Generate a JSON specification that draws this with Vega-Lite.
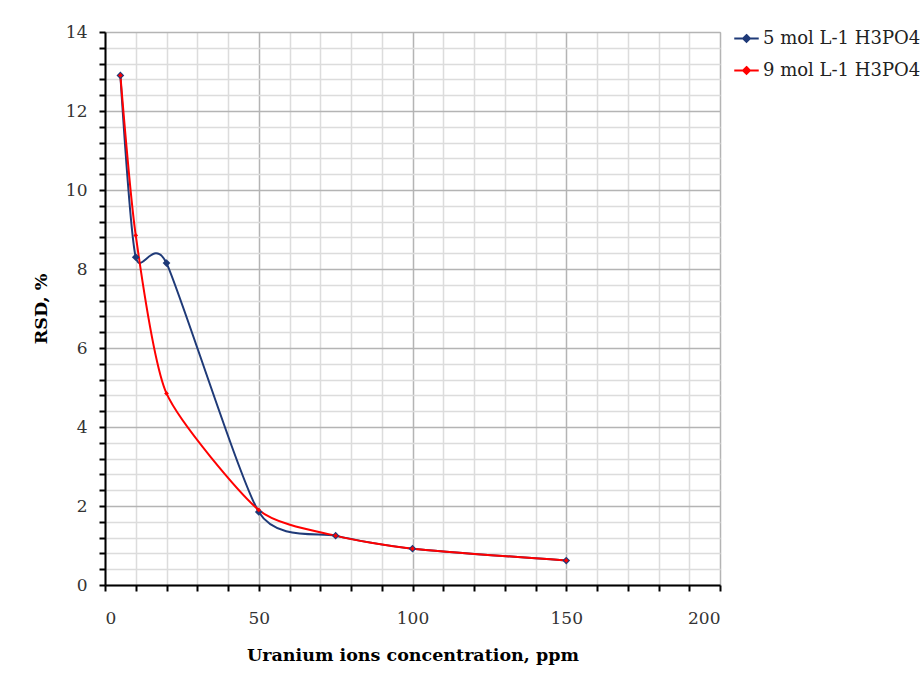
{
  "$schema": "https://vega.github.io/schema/vega-lite/v6.json",
  "width": 615,
  "height": 553,
  "autosize": "none",
  "padding": {"left": 105, "top": 32, "right": 202, "bottom": 94},
  "background": "white",
  "config": {
    "view": {"stroke": "#b0b0b0", "strokeWidth": 1},
    "font": "DejaVu Serif"
  },
  "data": {
    "values": [
      {"x": 5, "y": 12.9, "s": "5 mol L-1 H3PO4"},
      {"x": 10, "y": 8.3, "s": "5 mol L-1 H3PO4"},
      {"x": 20, "y": 8.15, "s": "5 mol L-1 H3PO4"},
      {"x": 50, "y": 1.85, "s": "5 mol L-1 H3PO4"},
      {"x": 75, "y": 1.25, "s": "5 mol L-1 H3PO4"},
      {"x": 100, "y": 0.92, "s": "5 mol L-1 H3PO4"},
      {"x": 150, "y": 0.62, "s": "5 mol L-1 H3PO4"},
      {"x": 5, "y": 12.9, "s": "9 mol L-1 H3PO4"},
      {"x": 10, "y": 8.85, "s": "9 mol L-1 H3PO4"},
      {"x": 20, "y": 4.85, "s": "9 mol L-1 H3PO4"},
      {"x": 50, "y": 1.9, "s": "9 mol L-1 H3PO4"},
      {"x": 75, "y": 1.25, "s": "9 mol L-1 H3PO4"},
      {"x": 100, "y": 0.92, "s": "9 mol L-1 H3PO4"},
      {"x": 150, "y": 0.62, "s": "9 mol L-1 H3PO4"}
    ]
  },
  "encoding": {
    "x": {
      "field": "x", "type": "quantitative",
      "scale": {"domain": [0, 200], "nice": false},
      "axis": {
        "title": "Uranium ions concentration, ppm",
        "titleFont": "DejaVu Serif", "titleFontSize": 17.5, "titleFontWeight": "bold", "titleColor": "#000",
        "titlePadding": 20,
        "values": [0,10,20,30,40,50,60,70,80,90,100,110,120,130,140,150,160,170,180,190,200],
        "labelExpr": "datum.value % 50 == 0 ? datum.label : ''",
        "labelFont": "DejaVu Serif", "labelFontSize": 17, "labelColor": "#333", "labelPadding": 19,
        "domainColor": "#000", "domainWidth": 2,
        "tickColor": "#000", "tickWidth": 2, "tickSize": 6,
        "grid": true,
        "gridColor": {"condition": {"test": "datum.value % 50 == 0", "value": "#b4b4b4"}, "value": "#dcdcdc"},
        "gridWidth": 1.5
      }
    },
    "y": {
      "field": "y", "type": "quantitative",
      "scale": {"domain": [0, 14], "nice": false},
      "axis": {
        "title": "RSD, %",
        "titleFont": "DejaVu Serif", "titleFontSize": 17.5, "titleFontWeight": "bold", "titleColor": "#000",
        "titlePadding": 15,
        "format": "~r",
        "values": [0,0.4,0.8,1.2,1.6,2,2.4,2.8,3.2,3.6,4,4.4,4.8,5.2,5.6,6,6.4,6.8,7.2,7.6,8,8.4,8.8,9.2,9.6,10,10.4,10.8,11.2,11.6,12,12.4,12.8,13.2,13.6,14],
        "labelExpr": "abs(datum.value/2 - round(datum.value/2)) < 0.001 ? datum.label : ''",
        "labelFont": "DejaVu Serif", "labelFontSize": 17, "labelColor": "#333", "labelPadding": 12,
        "domainColor": "#000", "domainWidth": 2,
        "tickColor": "#000", "tickWidth": 2, "tickSize": 6,
        "grid": true,
        "gridColor": {"condition": {"test": "abs(datum.value/2 - round(datum.value/2)) < 0.001", "value": "#b4b4b4"}, "value": "#dcdcdc"},
        "gridWidth": 1.5
      }
    },
    "color": {
      "field": "s", "type": "nominal",
      "scale": {"domain": ["5 mol L-1 H3PO4", "9 mol L-1 H3PO4"], "range": ["#1f3a78", "#ff0000"]},
      "legend": {
        "title": null,
        "orient": "none",
        "legendX": 628,
        "legendY": -7,
        "symbolType": "M-1,0H1M0,-0.28L0.28,0L0,0.28L-0.28,0Z",
        "symbolSize": 600,
        "symbolStrokeWidth": 2,
        "labelFont": "DejaVu Serif", "labelFontSize": 18, "labelColor": "#222",
        "labelOffset": 3,
        "rowPadding": 9
      }
    }
  },
  "layer": [
    {
      "mark": {"type": "line", "interpolate": "cardinal", "tension": 0.35, "strokeWidth": 2},
      "encoding": {"detail": {"field": "s"}}
    },
    {
      "transform": [{"filter": "datum.s == '5 mol L-1 H3PO4'"}],
      "mark": {"type": "point", "shape": "diamond", "filled": true, "size": 60, "color": "#1f3a78", "opacity": 1}
    },
    {
      "transform": [{"filter": "datum.s == '9 mol L-1 H3PO4'"}],
      "mark": {"type": "point", "shape": "diamond", "filled": true, "size": 22, "color": "#ff0000", "opacity": 1}
    }
  ]
}
